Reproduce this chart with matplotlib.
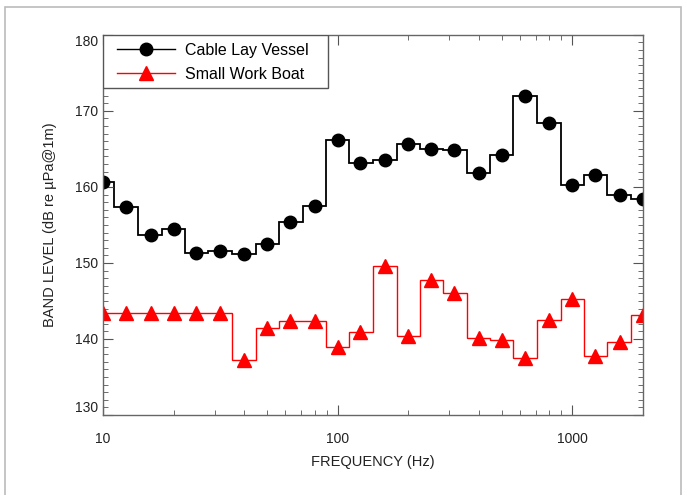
import matplotlib
matplotlib.use("Agg")
import matplotlib.pyplot as plt
import matplotlib.ticker as ticker
import numpy as np

plt.rcParams['font.family'] = ['Liberation Sans', 'DejaVu Sans']

# 1/3 octave band centre frequencies (Hz)
freqs = [10, 12.5, 16, 20, 25, 31.5, 40, 50, 63, 80, 100, 125, 160, 200,
         250, 315, 400, 500, 630, 800, 1000, 1250, 1600, 2000]

# band levels, dB re uPa @ 1m
cable_lay = [160.6, 157.3, 153.7, 154.4, 151.3, 151.6, 151.2, 152.5, 155.4, 157.5,
             166.2, 163.2, 163.6, 165.7, 165.0, 164.9, 161.8, 164.2, 171.9, 168.4,
             160.3, 161.6, 158.9, 158.4]
work_boat = [143.4, 143.4, 143.4, 143.4, 143.4, 143.4, 137.3, 141.4, 142.4, 142.4,
             139.0, 140.9, 149.6, 140.4, 147.7, 146.0, 140.1, 139.9, 137.5, 142.5,
             145.2, 137.8, 139.6, 143.2]

f = np.array(freqs)
edges = np.sqrt(f[:-1] * f[1:])
edges = np.concatenate([[f[0] / 1.12], edges, [f[-1] * 1.12]])

fig = plt.figure(figsize=(6.86, 4.95), dpi=100)
ax = fig.add_axes([0.150, 0.1616, 0.787, 0.768])

# grey border round the whole picture
fig.patches.append(plt.Rectangle((0.008, -0.01), 0.985, 0.995, transform=fig.transFigure,
                                 fill=False, edgecolor='#bbbbbb', linewidth=1.2))

ax.stairs(cable_lay, edges, color='black', linewidth=1.3)
ax.stairs(work_boat, edges, color='red', linewidth=1.0)
ax.plot(freqs, cable_lay, 'o', color='black', markersize=9)
ax.plot(freqs, work_boat, '^', color='red', markersize=9.5)

# legend: box drawn separately so the padding matches
ax.add_patch(plt.Rectangle((0, 1 - 0.1395), 0.4167, 0.1395, transform=ax.transAxes,
                           facecolor='white', edgecolor='#555555', linewidth=1.0, zorder=4))
h1, = ax.plot([], [], '-o', color='black', markersize=9, linewidth=1.0)
h2, = ax.plot([], [], '-^', color='red', markersize=9.5, linewidth=1.0)
leg = ax.legend([h1, h2], ['Cable Lay Vessel', 'Small Work Boat'], loc='upper left',
                bbox_to_anchor=(0.012, 1.0), borderaxespad=0, fontsize=11.5,
                handlelength=3.6, frameon=False, borderpad=0.5, labelspacing=0.55,
                handletextpad=0.65)
leg.set_zorder(5)

ax.set_xscale('log')
ax.set_xlim(10, 2000)
ax.set_ylim(130, 180)
ax.set_xticks([10, 100, 1000])
ax.xaxis.set_major_formatter(ticker.FormatStrFormatter('%d'))
ax.xaxis.set_minor_locator(ticker.LogLocator(base=10, subs=np.arange(2, 10)))
ax.xaxis.set_minor_formatter(ticker.NullFormatter())
ax.set_yticks(np.arange(130, 181, 10))
ax.yaxis.set_minor_locator(ticker.MultipleLocator(1))

ax.tick_params(which='both', direction='in', top=True, right=True, colors='#555555',
               labelcolor='#222222', labelsize=10)
ax.tick_params(which='major', length=7, width=0.8)
ax.tick_params(which='minor', length=3.5, width=0.6)
ax.tick_params(axis='x', pad=12)
for s in ax.spines.values():
    s.set_color('#666666')
    s.set_linewidth(1.0)

# end labels sit just inside the axis range, as in the original
ylabels = ax.get_yticklabels()
ylabels[0].set_verticalalignment('bottom')
ylabels[-1].set_verticalalignment('top')

ax.set_xlabel('FREQUENCY (Hz)', fontsize=10.5, color='#222222', labelpad=7)
ax.set_ylabel('BAND LEVEL (dB re \u00b5Pa@1m)', fontsize=10.5, color='#222222', labelpad=13)

fig.savefig('out.png', dpi=100)
